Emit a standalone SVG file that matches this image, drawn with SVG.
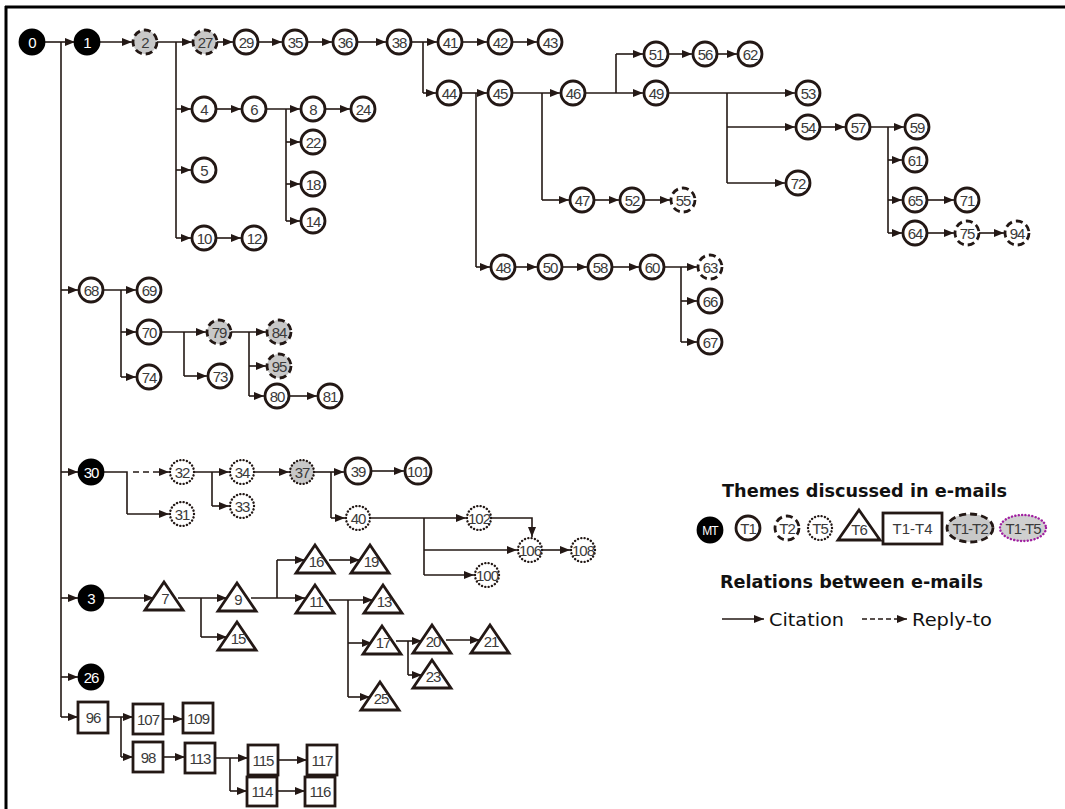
<svg xmlns="http://www.w3.org/2000/svg" width="1065" height="809" viewBox="0 0 1065 809">
<style>
.e{fill:none;stroke:#231815;stroke-width:1.6;marker-end:url(#ar)}
.l{fill:none;stroke:#231815;stroke-width:1.6}
.d{stroke-dasharray:6 4}
circle,polygon,rect,ellipse{stroke:#231815;stroke-width:2.8}
.c1{fill:#fff}
.mt{fill:#000;stroke:#000}
.t2{fill:#fff;stroke-dasharray:7 4}
.g2{fill:#c8c8c8;stroke-dasharray:7 4}
.t5{fill:#fff;stroke-width:2.4;stroke-dasharray:0.1 3.3;stroke-linecap:round}
.g5{fill:#c8c8c8;stroke-width:2.4;stroke-dasharray:0.1 3.3;stroke-linecap:round}
.p5{fill:#cfcfcf;stroke:#a020a0;stroke-width:2.4;stroke-dasharray:0.1 3.3;stroke-linecap:round}
.tr,.sq{fill:#fff}
text{font-family:"Liberation Sans",Arial,sans-serif;font-size:15px;fill:#3a3a3a;text-anchor:middle;letter-spacing:-1px}
.w{fill:#fff}
.lg{font-family:"DejaVu Sans","Liberation Sans",sans-serif;font-size:18px;fill:#111;text-anchor:start;letter-spacing:0}
.lb{font-weight:bold}
</style>
<defs>
<marker id="ar" markerUnits="userSpaceOnUse" markerWidth="11" markerHeight="9" refX="10" refY="4" orient="auto"><path d="M0,0 L10,4 L0,8 z" fill="#231815"/></marker>
</defs>
<g id="frame"><path d="M5,7 H1065 M6,6 V809" stroke="#000" stroke-width="3" fill="none"/></g>
<g id="connectors">
<path class="l" d="M61,42 V717"/>
<path class="e" d="M44,42 H75"/>
<path class="e" d="M61,290 H78"/><path class="e" d="M61,472 H78"/><path class="e" d="M61,598 H78"/><path class="e" d="M61,677 H78"/><path class="e" d="M61,717 H78"/>
<path class="e" d="M99,42 H132"/>
<path class="e" d="M157,42 H192"/><path class="l" d="M176,42 V238"/>
<path class="e" d="M176,109 H191"/><path class="e" d="M176,170 H191"/><path class="e" d="M176,238 H191"/>
<path class="e" d="M217,42 H233"/><path class="e" d="M258,42 H282"/><path class="e" d="M307,42 H332"/><path class="e" d="M357,42 H386"/>
<path class="e" d="M411,42 H437"/><path class="l" d="M423,42 V93"/><path class="e" d="M423,93 H436"/>
<path class="e" d="M462,42 H487"/><path class="e" d="M512,42 H537"/>
<path class="e" d="M461,93 H487"/><path class="l" d="M476,93 V267"/><path class="e" d="M476,267 H490"/>
<path class="e" d="M512,93 H560"/><path class="l" d="M542,93 V200"/><path class="e" d="M542,200 H569"/>
<path class="e" d="M585,93 H643"/><path class="l" d="M616,93 V54"/><path class="e" d="M616,54 H643"/>
<path class="e" d="M668,54 H692"/><path class="e" d="M717,54 H737"/>
<path class="e" d="M668,93 H795"/><path class="l" d="M727,93 V183"/><path class="e" d="M727,127 H795"/><path class="e" d="M727,183 H785"/>
<path class="e" d="M820,127 H845"/>
<path class="e" d="M870,127 H904"/><path class="l" d="M888,127 V233"/><path class="e" d="M888,160 H902"/><path class="e" d="M888,200 H902"/><path class="e" d="M888,233 H902"/>
<path class="e" d="M927,200 H954"/><path class="e" d="M927,233 H954"/><path class="e" d="M979,233 H1004"/>
<path class="e" d="M594,200 H619"/><path class="e" d="M644,200 H670"/>
<path class="e" d="M515,267 H537"/><path class="e" d="M562,267 H587"/><path class="e" d="M612,267 H639"/>
<path class="e" d="M664,267 H697"/><path class="l" d="M681,267 V342"/><path class="e" d="M681,301 H697"/><path class="e" d="M681,342 H697"/>
<path class="e" d="M216,109 H241"/>
<path class="e" d="M266,109 H300"/><path class="l" d="M286,109 V221"/><path class="e" d="M286,142 H300"/><path class="e" d="M286,184 H300"/><path class="e" d="M286,221 H300"/>
<path class="e" d="M325,109 H350"/>
<path class="e" d="M216,238 H241"/>
<path class="e" d="M103,290 H136"/><path class="l" d="M121,290 V377"/><path class="e" d="M121,332 H136"/><path class="e" d="M121,377 H136"/>
<path class="e" d="M161,332 H206"/><path class="l" d="M184,332 V376"/><path class="e" d="M184,376 H207"/>
<path class="e" d="M231,332 H266"/><path class="l" d="M249,332 V396"/><path class="e" d="M249,366 H266"/><path class="e" d="M249,396 H264"/>
<path class="e" d="M289,396 H317"/>
<path class="l" d="M103,472 H127 V514"/><path class="e" d="M127,514 H169"/><path class="e d" d="M133,472 H169"/>
<path class="e" d="M194,472 H229"/><path class="l" d="M212,472 V506"/><path class="e" d="M212,506 H229"/>
<path class="e" d="M254,472 H289"/>
<path class="e" d="M314,472 H344"/><path class="l" d="M331,472 V518"/><path class="e" d="M331,518 H345"/>
<path class="e" d="M372,471 H404"/>
<path class="e" d="M370,518 H466"/><path class="l" d="M424,518 V575"/><path class="e" d="M424,550 H517"/><path class="e" d="M424,575 H474"/>
<path class="e" d="M491,518 H532 V537"/>
<path class="e" d="M542,550 H570"/>
<path class="e" d="M103,598 H154"/>
<path class="e" d="M178,598 H227"/><path class="l" d="M201,598 V637"/><path class="e" d="M201,637 H227"/>
<path class="e" d="M251,598 H305"/><path class="l" d="M277,598 V560"/><path class="e" d="M277,560 H305"/>
<path class="e" d="M329,560 H360"/>
<path class="e" d="M329,600 H373"/><path class="l" d="M348,600 V697"/><path class="e" d="M348,643 H372"/><path class="e" d="M348,697 H370"/>
<path class="e" d="M396,641 H422"/><path class="l" d="M408,641 V675"/><path class="e" d="M408,675 H422"/>
<path class="e" d="M446,640 H480"/>
<path class="e" d="M108,717 H133"/><path class="l" d="M121,717 V757"/><path class="e" d="M121,757 H133"/>
<path class="e" d="M163,719 H183"/>
<path class="e" d="M163,757 H185"/>
<path class="e" d="M215,758 H248"/><path class="l" d="M230,758 V791"/><path class="e" d="M230,791 H247"/>
<path class="e" d="M278,760 H307"/>
<path class="e" d="M277,791 H305"/>
</g>
<g id="nodes">
<g id="n0"><circle class="mt" cx="32" cy="42" r="12"/><text class="w" x="32" y="47.5">0</text></g>
<g id="n1"><circle class="mt" cx="87" cy="42" r="12"/><text class="w" x="87" y="47.5">1</text></g>
<g id="n30"><circle class="mt" cx="91" cy="472" r="12"/><text class="w" x="91" y="477.5">30</text></g>
<g id="n3"><circle class="mt" cx="91" cy="598" r="12"/><text class="w" x="91" y="603.5">3</text></g>
<g id="n26"><circle class="mt" cx="91" cy="677" r="12"/><text class="w" x="91" y="682.5">26</text></g>
<g id="n2"><circle class="g2" cx="145" cy="42" r="12"/><text x="145" y="47.5">2</text></g>
<g id="n27"><circle class="g2" cx="205" cy="42" r="12"/><text x="205" y="47.5">27</text></g>
<g id="n29"><circle class="c1" cx="246" cy="42" r="12"/><text x="246" y="47.5">29</text></g>
<g id="n35"><circle class="c1" cx="295" cy="42" r="12"/><text x="295" y="47.5">35</text></g>
<g id="n36"><circle class="c1" cx="345" cy="42" r="12"/><text x="345" y="47.5">36</text></g>
<g id="n38"><circle class="c1" cx="399" cy="42" r="12"/><text x="399" y="47.5">38</text></g>
<g id="n41"><circle class="c1" cx="450" cy="42" r="12"/><text x="450" y="47.5">41</text></g>
<g id="n42"><circle class="c1" cx="500" cy="42" r="12"/><text x="500" y="47.5">42</text></g>
<g id="n43"><circle class="c1" cx="550" cy="42" r="12"/><text x="550" y="47.5">43</text></g>
<g id="n4"><circle class="c1" cx="204" cy="109" r="12"/><text x="204" y="114.5">4</text></g>
<g id="n6"><circle class="c1" cx="254" cy="109" r="12"/><text x="254" y="114.5">6</text></g>
<g id="n8"><circle class="c1" cx="313" cy="109" r="12"/><text x="313" y="114.5">8</text></g>
<g id="n24"><circle class="c1" cx="363" cy="109" r="12"/><text x="363" y="114.5">24</text></g>
<g id="n22"><circle class="c1" cx="313" cy="142" r="12"/><text x="313" y="147.5">22</text></g>
<g id="n18"><circle class="c1" cx="313" cy="184" r="12"/><text x="313" y="189.5">18</text></g>
<g id="n14"><circle class="c1" cx="313" cy="221" r="12"/><text x="313" y="226.5">14</text></g>
<g id="n5"><circle class="c1" cx="204" cy="170" r="12"/><text x="204" y="175.5">5</text></g>
<g id="n10"><circle class="c1" cx="204" cy="238" r="12"/><text x="204" y="243.5">10</text></g>
<g id="n12"><circle class="c1" cx="254" cy="238" r="12"/><text x="254" y="243.5">12</text></g>
<g id="n44"><circle class="c1" cx="449" cy="93" r="12"/><text x="449" y="98.5">44</text></g>
<g id="n45"><circle class="c1" cx="500" cy="93" r="12"/><text x="500" y="98.5">45</text></g>
<g id="n46"><circle class="c1" cx="573" cy="93" r="12"/><text x="573" y="98.5">46</text></g>
<g id="n49"><circle class="c1" cx="656" cy="93" r="12"/><text x="656" y="98.5">49</text></g>
<g id="n51"><circle class="c1" cx="656" cy="54" r="12"/><text x="656" y="59.5">51</text></g>
<g id="n56"><circle class="c1" cx="705" cy="54" r="12"/><text x="705" y="59.5">56</text></g>
<g id="n62"><circle class="c1" cx="750" cy="54" r="12"/><text x="750" y="59.5">62</text></g>
<g id="n53"><circle class="c1" cx="808" cy="93" r="12"/><text x="808" y="98.5">53</text></g>
<g id="n54"><circle class="c1" cx="808" cy="127" r="12"/><text x="808" y="132.5">54</text></g>
<g id="n57"><circle class="c1" cx="858" cy="127" r="12"/><text x="858" y="132.5">57</text></g>
<g id="n59"><circle class="c1" cx="917" cy="127" r="12"/><text x="917" y="132.5">59</text></g>
<g id="n61"><circle class="c1" cx="915" cy="160" r="12"/><text x="915" y="165.5">61</text></g>
<g id="n65"><circle class="c1" cx="915" cy="200" r="12"/><text x="915" y="205.5">65</text></g>
<g id="n71"><circle class="c1" cx="967" cy="200" r="12"/><text x="967" y="205.5">71</text></g>
<g id="n64"><circle class="c1" cx="915" cy="233" r="12"/><text x="915" y="238.5">64</text></g>
<g id="n75"><circle class="t2" cx="967" cy="233" r="12"/><text x="967" y="238.5">75</text></g>
<g id="n94"><circle class="t2" cx="1017" cy="233" r="12"/><text x="1017" y="238.5">94</text></g>
<g id="n72"><circle class="c1" cx="798" cy="183" r="12"/><text x="798" y="188.5">72</text></g>
<g id="n47"><circle class="c1" cx="582" cy="200" r="12"/><text x="582" y="205.5">47</text></g>
<g id="n52"><circle class="c1" cx="632" cy="200" r="12"/><text x="632" y="205.5">52</text></g>
<g id="n55"><circle class="t2" cx="683" cy="200" r="12"/><text x="683" y="205.5">55</text></g>
<g id="n48"><circle class="c1" cx="503" cy="267" r="12"/><text x="503" y="272.5">48</text></g>
<g id="n50"><circle class="c1" cx="550" cy="267" r="12"/><text x="550" y="272.5">50</text></g>
<g id="n58"><circle class="c1" cx="600" cy="267" r="12"/><text x="600" y="272.5">58</text></g>
<g id="n60"><circle class="c1" cx="652" cy="267" r="12"/><text x="652" y="272.5">60</text></g>
<g id="n63"><circle class="t2" cx="710" cy="267" r="12"/><text x="710" y="272.5">63</text></g>
<g id="n66"><circle class="c1" cx="710" cy="301" r="12"/><text x="710" y="306.5">66</text></g>
<g id="n67"><circle class="c1" cx="710" cy="342" r="12"/><text x="710" y="347.5">67</text></g>
<g id="n68"><circle class="c1" cx="91" cy="290" r="12"/><text x="91" y="295.5">68</text></g>
<g id="n69"><circle class="c1" cx="149" cy="290" r="12"/><text x="149" y="295.5">69</text></g>
<g id="n70"><circle class="c1" cx="149" cy="332" r="12"/><text x="149" y="337.5">70</text></g>
<g id="n74"><circle class="c1" cx="149" cy="377" r="12"/><text x="149" y="382.5">74</text></g>
<g id="n79"><circle class="g2" cx="219" cy="332" r="12"/><text x="219" y="337.5">79</text></g>
<g id="n73"><circle class="c1" cx="220" cy="376" r="12"/><text x="220" y="381.5">73</text></g>
<g id="n84"><circle class="g2" cx="279" cy="332" r="12"/><text x="279" y="337.5">84</text></g>
<g id="n95"><circle class="g2" cx="279" cy="366" r="12"/><text x="279" y="371.5">95</text></g>
<g id="n80"><circle class="c1" cx="277" cy="396" r="12"/><text x="277" y="401.5">80</text></g>
<g id="n81"><circle class="c1" cx="330" cy="396" r="12"/><text x="330" y="401.5">81</text></g>
<g id="n32"><circle class="t5" cx="182" cy="472" r="12"/><text x="182" y="477.5">32</text></g>
<g id="n34"><circle class="t5" cx="242" cy="472" r="12"/><text x="242" y="477.5">34</text></g>
<g id="n31"><circle class="t5" cx="182" cy="514" r="12"/><text x="182" y="519.5">31</text></g>
<g id="n33"><circle class="t5" cx="242" cy="506" r="12"/><text x="242" y="511.5">33</text></g>
<g id="n37"><circle class="g5" cx="302" cy="472" r="12"/><text x="302" y="477.5">37</text></g>
<g id="n39"><circle class="c1" cx="358" cy="471" r="13"/><text x="358" y="476.5">39</text></g>
<g id="n101"><circle class="c1" cx="418" cy="471" r="13"/><text x="418" y="476.5">101</text></g>
<g id="n40"><circle class="t5" cx="358" cy="518" r="12"/><text x="358" y="523.5">40</text></g>
<g id="n102"><circle class="t5" cx="479" cy="518" r="12"/><text x="479" y="523.5">102</text></g>
<g id="n106"><circle class="t5" cx="530" cy="550" r="12"/><text x="530" y="555.5">106</text></g>
<g id="n108"><circle class="t5" cx="583" cy="550" r="12"/><text x="583" y="555.5">108</text></g>
<g id="n100"><circle class="t5" cx="487" cy="575" r="12"/><text x="487" y="580.5">100</text></g>
<g id="n7"><polygon class="tr" points="164,582 183,610 145,610"/><text x="165" y="604">7</text></g>
<g id="n9"><polygon class="tr" points="237,583 256,611 218,611"/><text x="238" y="605">9</text></g>
<g id="n15"><polygon class="tr" points="237,622 256,650 218,650"/><text x="238" y="644">15</text></g>
<g id="n16"><polygon class="tr" points="315,545 334,573 296,573"/><text x="316" y="567">16</text></g>
<g id="n11"><polygon class="tr" points="315,585 334,613 296,613"/><text x="316" y="607">11</text></g>
<g id="n19"><polygon class="tr" points="370,545 389,573 351,573"/><text x="371" y="567">19</text></g>
<g id="n13"><polygon class="tr" points="383,585 402,613 364,613"/><text x="384" y="607">13</text></g>
<g id="n17"><polygon class="tr" points="382,626 401,654 363,654"/><text x="383" y="648">17</text></g>
<g id="n20"><polygon class="tr" points="432,625 451,653 413,653"/><text x="433" y="647">20</text></g>
<g id="n21"><polygon class="tr" points="490,625 509,653 471,653"/><text x="491" y="647">21</text></g>
<g id="n23"><polygon class="tr" points="432,660 451,688 413,688"/><text x="433" y="682">23</text></g>
<g id="n25"><polygon class="tr" points="380,682 399,710 361,710"/><text x="381" y="704">25</text></g>
<g id="n96"><rect class="sq" x="78" y="702" width="30" height="31"/><text x="93" y="723">96</text></g>
<g id="n107"><rect class="sq" x="133" y="704" width="30" height="30"/><text x="148" y="725">107</text></g>
<g id="n109"><rect class="sq" x="183" y="703" width="30" height="30"/><text x="198" y="724">109</text></g>
<g id="n98"><rect class="sq" x="133" y="742" width="30" height="30"/><text x="148" y="763">98</text></g>
<g id="n113"><rect class="sq" x="185" y="743" width="30" height="30"/><text x="200" y="764">113</text></g>
<g id="n115"><rect class="sq" x="248" y="745" width="30" height="30"/><text x="263" y="766">115</text></g>
<g id="n117"><rect class="sq" x="307" y="745" width="30" height="30"/><text x="322" y="766">117</text></g>
<g id="n114"><rect class="sq" x="247" y="777" width="30" height="29"/><text x="262" y="797">114</text></g>
<g id="n116"><rect class="sq" x="305" y="777" width="30" height="29"/><text x="320" y="797">116</text></g>
</g>
<g id="legend">
<text class="lg lb" x="722" y="497" textLength="285" lengthAdjust="spacingAndGlyphs">Themes discussed in e-mails</text>
<circle class="mt" cx="710" cy="530" r="12"/><text class="w" x="710" y="535" style="font-size:12px">MT</text>
<circle class="c1" cx="748" cy="528" r="12"/><text x="748" y="533.5">T1</text>
<circle class="t2" cx="787" cy="528" r="12"/><text x="787" y="533.5">T2</text>
<circle class="t5" cx="820" cy="528" r="12"/><text x="820" y="533.5">T5</text>
<polygon class="tr" points="859,510 880,540 838,540"/><text x="859" y="535">T6</text>
<rect class="sq" x="883" y="513" width="59" height="31"/><text x="912.5" y="534" style="letter-spacing:0">T1-T4</text>
<ellipse class="g2" cx="970" cy="528" rx="23" ry="14"/><text x="970" y="533.5">T1-T2</text>
<ellipse class="p5" cx="1023" cy="528" rx="23" ry="13"/><text x="1023" y="533.5">T1-T5</text>
<text class="lg lb" x="720" y="588" textLength="263" lengthAdjust="spacingAndGlyphs">Relations between e-mails</text>
<path class="e" d="M722,619 H764"/>
<text class="lg" x="769" y="626" textLength="75" lengthAdjust="spacingAndGlyphs">Citation</text>
<path class="e" style="stroke-dasharray:5 3" d="M862,619 H907"/>
<text class="lg" x="912" y="626" textLength="80" lengthAdjust="spacingAndGlyphs">Reply-to</text>
</g>
</svg>
